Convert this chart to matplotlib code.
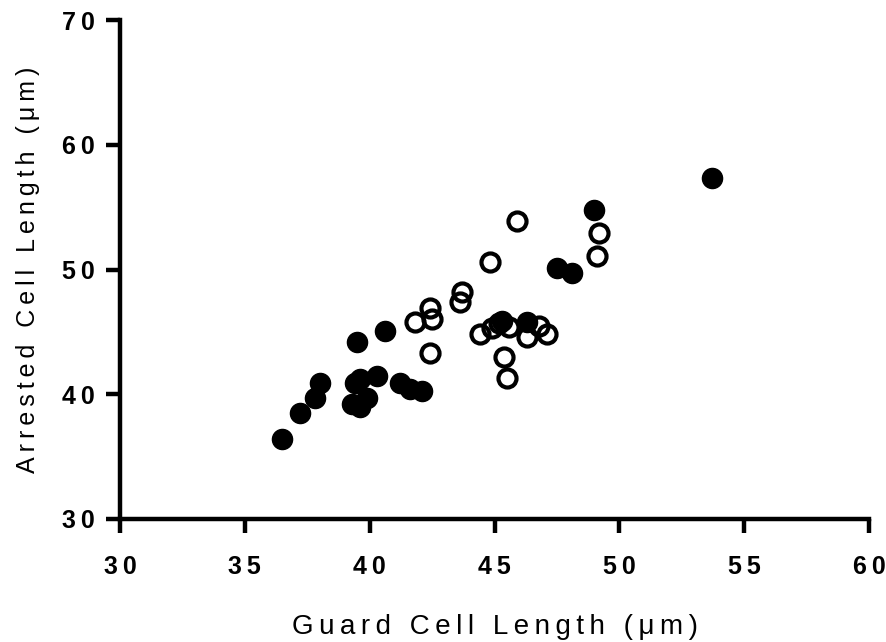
import matplotlib
matplotlib.use("Agg")
import matplotlib.pyplot as plt
from matplotlib.ticker import FuncFormatter

# guard cell length vs arrested cell length (um)
filled_x = [36.5, 37.2, 37.8, 38.0, 39.5, 40.6, 39.3, 39.6, 39.9, 39.4,
            39.6, 40.3, 41.2, 41.6, 42.1, 45.3, 46.3, 47.5, 48.1, 49.0, 53.7]
filled_y = [36.4, 38.5, 39.7, 40.9, 44.2, 45.1, 39.2, 39.0, 39.7, 40.9,
            41.2, 41.5, 40.9, 40.4, 40.3, 45.9, 45.8, 50.1, 49.7, 54.8, 57.3]

open_x = [41.8, 42.4, 42.5, 42.4, 43.6, 43.7, 44.8, 45.9, 49.2, 49.1,
          44.4, 44.9, 45.2, 45.6, 46.3, 46.8, 47.1, 45.4, 45.5]
open_y = [45.8, 46.9, 46.0, 43.3, 47.4, 48.2, 50.6, 53.9, 52.9, 51.1,
          44.8, 45.3, 45.7, 45.4, 44.6, 45.5, 44.8, 43.0, 41.3]

x_ticks = [30, 35, 40, 45, 50, 55, 60]
y_ticks = [30, 40, 50, 60, 70]
x_label = 'Guard Cell Length (\u03bcm)'
y_label = 'Arrested Cell Length (\u03bcm)'

plt.rcParams['font.family'] = ['Liberation Sans', 'DejaVu Sans']


def spaced(text, gap='\u2009'):
    # widen the tracking like the Prism export does
    return gap.join(text)


fig = plt.figure(figsize=(8.87, 6.42), dpi=100)
ax = fig.add_axes([0.1353, 0.1916, 0.8444, 0.7772])

ax.plot(filled_x, filled_y, 'o', color='black', markersize=14.5, clip_on=False)
ax.plot(open_x, open_y, 'o', markerfacecolor='none', markeredgecolor='black',
        markersize=13, markeredgewidth=3, clip_on=False)

ax.set_xlim(30, 60)
ax.set_ylim(30, 70)
ax.set_xticks(x_ticks)
ax.set_yticks(y_ticks)
tick_fmt = FuncFormatter(lambda v, pos: spaced('%d' % v))
ax.xaxis.set_major_formatter(tick_fmt)
ax.yaxis.set_major_formatter(tick_fmt)

for side in ['top', 'right']:
    ax.spines[side].set_visible(False)
for side in ['left', 'bottom']:
    ax.spines[side].set_linewidth(3.2)
    ax.spines[side].set_capstyle('projecting')

ax.tick_params(axis='both', direction='out', length=10, width=3.2,
               labelsize=18)
ax.tick_params(axis='x', pad=16)
ax.tick_params(axis='y', pad=8)
for lbl in ax.get_xticklabels() + ax.get_yticklabels():
    lbl.set_fontweight('bold')

ax.set_xlabel(spaced(x_label), fontsize=20, labelpad=25)
ax.set_ylabel(spaced(y_label), fontsize=18, labelpad=16)

fig.savefig('out.png', dpi=100)
